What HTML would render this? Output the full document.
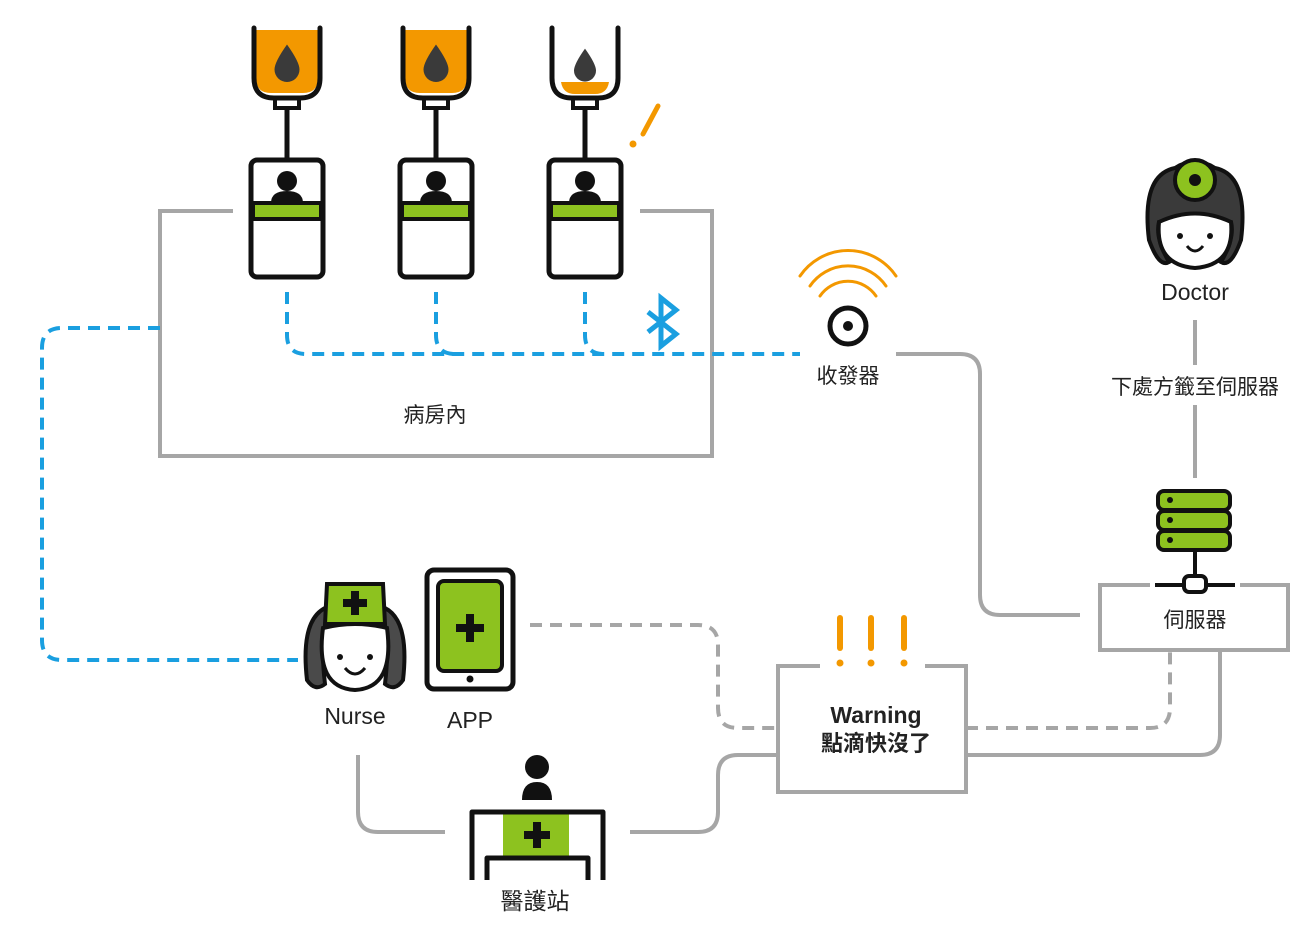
<!DOCTYPE html>
<html><head><meta charset="utf-8"><style>
body{margin:0;background:#fff}
text{font-family:"Liberation Sans","Noto Sans CJK TC",sans-serif;fill:#222}
</style></head><body>
<svg width="1316" height="935" viewBox="0 0 1316 935" xmlns="http://www.w3.org/2000/svg">
<defs>
<g id="bag">
  <path d="M-31,30 H31 V78 Q31,93 16,93 H-16 Q-31,93 -31,78Z" fill="#f39800"/>
  <path d="M-33,28 V78 Q-33,98 -13,98 H13 Q33,98 33,78 V28" fill="none" stroke="#111" stroke-width="5" stroke-linecap="round"/>
  <path d="M-12,98 V108 H12 V98" fill="none" stroke="#111" stroke-width="4"/>
  <line x1="0" y1="108" x2="0" y2="160" stroke="#111" stroke-width="5"/>
</g>
<g id="dev">
  <rect x="-36" y="160" width="72" height="117" rx="6" fill="#fff" stroke="#111" stroke-width="5"/>
  <circle cx="0" cy="181" r="10" fill="#111"/>
  <path d="M-16,203 Q-16,191 0,191 Q16,191 16,203Z" fill="#111"/>
  <rect x="-34" y="203" width="68" height="16" fill="#8dc21f" stroke="#111" stroke-width="4"/>
</g>
<path id="drop" d="M0,-14 Q10,0 10,6 A10,10 0 0 1 -10,6 Q-10,0 0,-14Z" fill="#3a3a3a"/>
</defs>

<path d="M233,211 H160 V456 H712 V211 H640" fill="none" stroke="#a6a6a6" stroke-width="4"/>
<text x="435" y="422" font-size="21" text-anchor="middle">病房內</text>

<g transform="translate(287,0)"><use href="#bag"/><use href="#dev"/><use href="#drop" transform="translate(0,62) scale(1.25)"/></g>
<g transform="translate(436,0)"><use href="#bag"/><use href="#dev"/><use href="#drop" transform="translate(0,62) scale(1.25)"/></g>
<g transform="translate(585,0)">
  <path d="M-24,82 H24 Q22,94 10,94 H-10 Q-22,94 -24,82Z" fill="#f39800"/>
  <path d="M-33,28 V78 Q-33,98 -13,98 H13 Q33,98 33,78 V28" fill="none" stroke="#111" stroke-width="5" stroke-linecap="round"/>
  <path d="M-12,98 V108 H12 V98" fill="none" stroke="#111" stroke-width="4"/>
  <line x1="0" y1="108" x2="0" y2="160" stroke="#111" stroke-width="5"/>
  <use href="#dev"/><use href="#drop" transform="translate(0,64) scale(1.1)"/>
</g>
<line x1="658" y1="106" x2="643" y2="134" stroke="#f39800" stroke-width="5" stroke-linecap="round"/>
<circle cx="633" cy="144" r="3.5" fill="#f39800"/>

<g fill="none" stroke="#1a9fe0" stroke-width="4" stroke-dasharray="12,8">
  <path d="M287,292 V335 Q287,354 306,354 H800"/>
  <path d="M436,292 V335 Q436,354 455,354"/>
  <path d="M585,292 V335 Q585,354 604,354"/>
  <path d="M160,328 H62 Q42,328 42,348 V640 Q42,660 62,660 H298"/>
</g>
<path d="M648,300 L676,322 L661,334 V286 L676,298 L648,320" fill="none" stroke="#1a9fe0" stroke-width="5" transform="translate(0,12)"/>

<g fill="none" stroke="#f39800" stroke-width="3" stroke-linecap="round">
  <path d="M820,296 A34,34 0 0 1 876,296"/>
  <path d="M810,286 A46,46 0 0 1 886,286"/>
  <path d="M800,276 A58,58 0 0 1 896,276"/>
</g>
<circle cx="848" cy="326" r="18" fill="#fff" stroke="#111" stroke-width="5"/>
<circle cx="848" cy="326" r="5" fill="#111"/>
<text x="848" y="383" font-size="21" text-anchor="middle">收發器</text>

<g fill="none" stroke="#a6a6a6" stroke-width="4">
  <path d="M896,354 H960 Q980,354 980,374 V595 Q980,615 1000,615 H1080"/>
  <path d="M966,755 H1200 Q1220,755 1220,735 V650"/>
  <path d="M630,832 H698 Q718,832 718,812 V775 Q718,755 738,755 H778"/>
  <path d="M358,755 V812 Q358,832 378,832 H445"/>
  <path d="M1195,320 V365"/>
  <path d="M1195,405 V478"/>
</g>
<g fill="none" stroke="#a6a6a6" stroke-width="4" stroke-dasharray="12,8">
  <path d="M530,625 H698 Q718,625 718,645 V708 Q718,728 738,728 H778"/>
  <path d="M966,728 H1150 Q1170,728 1170,708 V650"/>
</g>

<g transform="translate(1195,0)">
  <path d="M-46,240 Q-54,175 -20,168 Q0,155 20,168 Q54,175 46,240 Q36,268 26,262 Q40,238 36,222 Q0,212 -36,222 Q-40,238 -26,262 Q-36,268 -46,240Z" fill="#3a3a3a" stroke="#111" stroke-width="4"/>
  <path d="M-36,222 Q0,205 36,222 Q40,265 0,268 Q-40,265 -36,222Z" fill="#fff" stroke="#111" stroke-width="4"/>
  <circle cx="-15" cy="236" r="3" fill="#111"/><circle cx="15" cy="236" r="3" fill="#111"/>
  <path d="M-8,246 Q0,256 8,246" fill="none" stroke="#111" stroke-width="3"/>
  <circle cx="0" cy="180" r="20" fill="#8dc21f" stroke="#111" stroke-width="4"/>
  <circle cx="0" cy="180" r="6" fill="#111"/>
</g>
<text x="1195" y="300" font-size="23" text-anchor="middle">Doctor</text>
<text x="1195" y="394" font-size="21" text-anchor="middle">下處方籤至伺服器</text>

<g stroke="#111" stroke-width="4">
  <rect x="1158" y="491" width="72" height="19" rx="6" fill="#8dc21f"/>
  <rect x="1158" y="511" width="72" height="19" rx="6" fill="#8dc21f"/>
  <rect x="1158" y="531" width="72" height="19" rx="6" fill="#8dc21f"/>
  <line x1="1195" y1="550" x2="1195" y2="575"/>
  <line x1="1155" y1="585" x2="1235" y2="585"/>
  <rect x="1184" y="576" width="22" height="16" rx="5" fill="#fff"/>
</g>
<circle cx="1170" cy="500" r="3" fill="#111"/><circle cx="1170" cy="520" r="3" fill="#111"/><circle cx="1170" cy="540" r="3" fill="#111"/>
<path d="M1150,585 H1100 V650 H1288 V585 H1240" fill="none" stroke="#a6a6a6" stroke-width="4"/>
<text x="1195" y="627" font-size="21" text-anchor="middle">伺服器</text>

<path d="M820,666 H778 V792 H966 V666 H925" fill="none" stroke="#a6a6a6" stroke-width="4"/>
<g stroke="#f39800" stroke-width="6" stroke-linecap="round">
  <line x1="840" y1="618" x2="840" y2="648"/><line x1="871" y1="618" x2="871" y2="648"/><line x1="904" y1="618" x2="904" y2="648"/>
</g>
<circle cx="840" cy="663" r="3.5" fill="#f39800"/><circle cx="871" cy="663" r="3.5" fill="#f39800"/><circle cx="904" cy="663" r="3.5" fill="#f39800"/>
<text x="876" y="723" font-size="23" text-anchor="middle" font-weight="bold">Warning</text>
<text x="876" y="751" font-size="22" text-anchor="middle" font-weight="bold">點滴快沒了</text>

<g transform="translate(355,0)">
  <path d="M-48,680 Q-56,610 -20,605 H20 Q56,610 48,680 Q40,692 30,684 Q34,650 30,640 H-30 Q-34,650 -30,684 Q-40,692 -48,680Z" fill="#4a4a4a" stroke="#111" stroke-width="4"/>
  <path d="M-32,628 Q0,620 32,628 Q40,688 0,690 Q-40,688 -32,628Z" fill="#fff" stroke="#111" stroke-width="4"/>
  <path d="M-28,584 H28 L30,624 H-30Z" fill="#8dc21f" stroke="#111" stroke-width="4"/>
  <rect x="-4" y="591" width="8" height="24" fill="#111"/><rect x="-12" y="599" width="24" height="8" fill="#111"/>
  <circle cx="-15" cy="657" r="3" fill="#111"/><circle cx="15" cy="657" r="3" fill="#111"/>
  <path d="M-10,668 Q0,680 10,668" fill="none" stroke="#111" stroke-width="3"/>
</g>
<text x="355" y="724" font-size="23" text-anchor="middle">Nurse</text>

<rect x="427" y="570" width="86" height="119" rx="7" fill="#fff" stroke="#111" stroke-width="5"/>
<rect x="438" y="581" width="64" height="90" rx="6" fill="#8dc21f" stroke="#111" stroke-width="4"/>
<rect x="466" y="614" width="8" height="28" fill="#111"/><rect x="456" y="624" width="28" height="8" fill="#111"/>
<circle cx="470" cy="679" r="3.5" fill="#111"/>
<text x="470" y="728" font-size="23" text-anchor="middle">APP</text>

<circle cx="537" cy="767" r="12" fill="#111"/>
<path d="M522,800 Q522,782 537,782 Q552,782 552,800Z" fill="#111"/>
<rect x="503" y="814" width="66" height="42" fill="#8dc21f"/>
<rect x="533" y="822" width="8" height="26" fill="#111"/><rect x="524" y="831" width="26" height="8" fill="#111"/>
<path d="M472,880 V812 H603 V880" fill="none" stroke="#111" stroke-width="5" stroke-linejoin="round"/>
<path d="M487,880 V858 H588 V880" fill="none" stroke="#111" stroke-width="5" stroke-linejoin="round"/>
<text x="535" y="909" font-size="23" text-anchor="middle">醫護站</text>
</svg>
</body></html>
